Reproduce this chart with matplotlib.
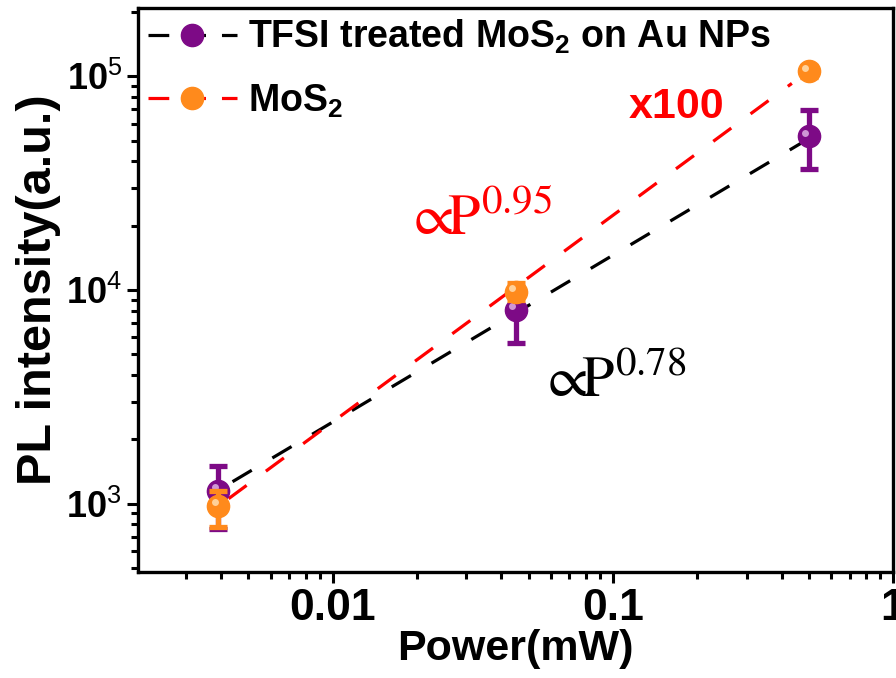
import matplotlib
matplotlib.use('Agg')
import matplotlib.pyplot as plt
import matplotlib.transforms as mtransforms
from matplotlib.lines import Line2D
from matplotlib.ticker import LogLocator, FixedLocator, NullFormatter

plt.rcParams['font.family'] = ['Liberation Sans', 'DejaVu Sans']
plt.rcParams['mathtext.fontset'] = 'custom'
plt.rcParams['mathtext.bf'] = 'Liberation Sans:bold'
plt.rcParams['mathtext.rm'] = 'Liberation Sans'

# data
power = [0.0039, 0.045, 0.5]
tfsi_pl = [1150, 8070, 52500]
tfsi_err_lo = [386, 2420, 15800]
tfsi_err_hi = [356, 1620, 16800]
mos2_pl = [980, 9790, 105500]
mos2_err_lo = [200, 810, 6000]
mos2_err_hi = [170, 990, 6000]

# power-law fit lines (end points)
fit_x_tfsi = [0.00439, 0.469]
fit_y_tfsi = [1267, 48600]
fit_x_mos2 = [0.00425, 0.4355]
fit_y_mos2 = [1055, 92700]

purple = '#7d0a86'
purple_hi = '#d9a6de'
orange = '#ff8a1c'
orange_hi = '#ffd9a8'

W, H = 896, 678
fig = plt.figure(figsize=(W / 100, H / 100), dpi=100)
ax = fig.add_axes([138 / W, 1 - 572 / H, 755 / W, 564 / H])

ax.set_xscale('log')
ax.set_yscale('log')
ax.set_xlim(10 ** -2.695, 1)
ax.set_ylim(10 ** 2.68, 10 ** 5.32)

dash = (7, 7.5)
ax.plot(fit_x_tfsi, fit_y_tfsi, color='black', lw=2.3, dashes=dash, zorder=2)
ax.plot(fit_x_mos2, fit_y_mos2, color='#ff0000', lw=2.3, dashes=dash, zorder=2)

def spheres(y, err_lo, err_hi, col, hi_col, z):
    ax.errorbar(power, y, yerr=[err_lo, err_hi], fmt='none', ecolor=col,
                elinewidth=3.8, capsize=6.5, capthick=3.8, zorder=z)
    ax.plot(power, y, 'o', ms=16, color=col, mec=col, zorder=z + 0.1)
    off = mtransforms.offset_copy(ax.transData, fig=fig, x=-2.5, y=2.5, units='points')
    ax.plot(power, y, 'o', ms=5, color=hi_col, mec='none', alpha=0.9,
            transform=off, zorder=z + 0.2)

spheres(tfsi_pl, tfsi_err_lo, tfsi_err_hi, purple, purple_hi, 3)
spheres(mos2_pl, mos2_err_lo, mos2_err_hi, orange, orange_hi, 4)

# axes styling
for s in ax.spines.values():
    s.set_linewidth(2.4)
ax.tick_params(which='both', top=False, right=False, direction='out', width=2.2)
ax.tick_params(which='major', length=8)
ax.tick_params(which='minor', length=5)

ax.xaxis.set_major_locator(FixedLocator([0.01, 0.1, 1]))
ax.xaxis.set_minor_locator(LogLocator(base=10, subs=range(2, 10), numticks=20))
ax.set_xticklabels(['0.01', '0.1', '1'], fontsize=32, fontweight='bold')
ax.xaxis.set_minor_formatter(NullFormatter())

ax.yaxis.set_major_locator(FixedLocator([1e3, 1e4, 1e5]))
ax.yaxis.set_minor_locator(LogLocator(base=10, subs=range(2, 10), numticks=20))
ax.set_yticklabels([r'$\mathbf{10}^{3}$', r'$\mathbf{10}^{4}$', r'$\mathbf{10}^{5}$'],
                   fontsize=26)
ax.yaxis.set_minor_formatter(NullFormatter())

ax.set_xlabel('Power(mW)', fontsize=31, fontweight='bold', labelpad=0)
ax.set_ylabel('PL intensity(a.u.)', fontsize=35, fontweight='bold', labelpad=4)

# legend
leg_dash = (6.5, 5)
h1 = Line2D([], [], color='black', lw=2.3, dashes=leg_dash, marker='o', ms=16,
            mfc=purple, mec=purple)
h2 = Line2D([], [], color='#ff0000', lw=2.3, dashes=leg_dash, marker='o', ms=16,
            mfc=orange, mec=orange)
leg = ax.legend([h1, h2], [r'TFSI treated MoS$_\mathbf{2}$ on Au NPs', r'MoS$_\mathbf{2}$'],
                loc='upper left', bbox_to_anchor=(0.003, 0.996), frameon=False,
                prop={'size': 27, 'weight': 'bold'}, handlelength=2.38,
                handletextpad=0.3, labelspacing=0.7, borderaxespad=0.0,
                borderpad=0.2, numpoints=1)

# annotations
fig.text(405 / W, 1 - 235 / H, r'$\propto\!\!\mathrm{P}^{0.95}$', color='#ff0000',
         fontsize=42, ha='left', va='baseline', math_fontfamily='stix')
fig.text(539 / W, 1 - 397 / H, r'$\propto\!\!\mathrm{P}^{0.78}$', color='black',
         fontsize=42, ha='left', va='baseline', math_fontfamily='stix')
fig.text(677 / W, 1 - 107 / H, 'x100', color='#ff0000', fontsize=31,
         fontweight='bold', ha='center', va='center')

fig.savefig('out.png', dpi=100)
